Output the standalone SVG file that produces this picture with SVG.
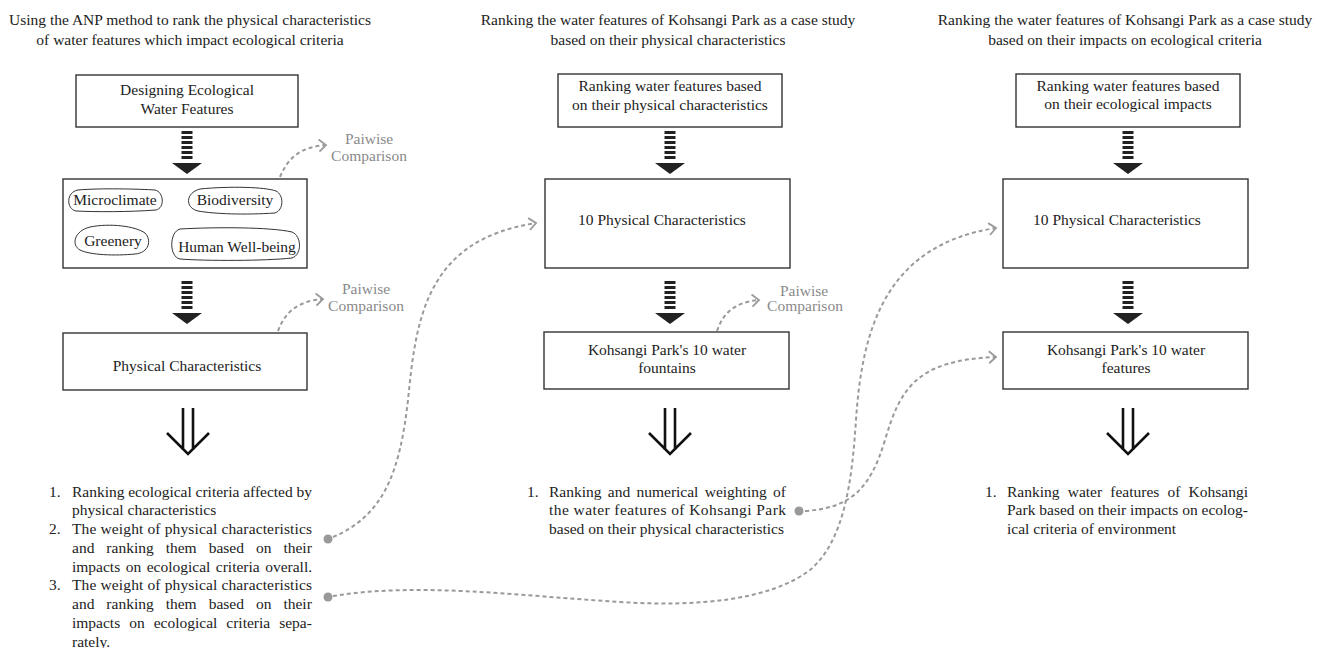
<svg xmlns="http://www.w3.org/2000/svg" width="1325" height="648" viewBox="0 0 1325 648">
<style>
text{font-family:"Liberation Serif","Times New Roman",serif;font-size:15.5px;fill:#222}
.c{text-anchor:middle}
.g{fill:#8a8a8a}
.box{fill:#fff;stroke:#333;stroke-width:1.4}
.blob{fill:none;stroke:#333;stroke-width:1}
.dash{fill:none;stroke:#9a9a9a;stroke-width:2;stroke-dasharray:4 3}
.dot{fill:#999}
.bar{fill:#222}
.hol{fill:none;stroke:#111;stroke-width:2.6}
</style>
<defs>
<marker id="ah" markerUnits="userSpaceOnUse" markerWidth="12" markerHeight="14" refX="8" refY="6" orient="auto" overflow="visible">
<path d="M1,0 L8,6 L1,12" fill="none" stroke="#9a9a9a" stroke-width="1.8"/>
</marker>
<g id="bars">
<rect x="-5.5" y="0" width="11" height="3"/>
<rect x="-5.5" y="5" width="11" height="3"/>
<rect x="-5.5" y="10" width="11" height="3"/>
<rect x="-5.5" y="15" width="11" height="3"/>
<rect x="-5.5" y="20" width="11" height="3"/>
<rect x="-5.5" y="25" width="11" height="3"/>
<path d="M-15,32 L15,32 L0,43 Z"/>
</g>
<g id="hollow">
<path d="M-5,0 V42 M5,0 V42 M-21,25 L0,46 L21,25"/>
</g>
</defs>

<!-- titles -->
<g id="titles">
<text class="c" x="190" y="25">Using the ANP method to rank the physical characteristics</text>
<text class="c" x="190" y="45">of water features which impact ecological criteria</text>
<text class="c" x="668" y="25">Ranking the water features of Kohsangi Park as a case study</text>
<text class="c" x="668" y="45">based on their physical characteristics</text>
<text class="c" x="1125" y="25">Ranking the water features of Kohsangi Park as a case study</text>
<text class="c" x="1125" y="45">based on their impacts on ecological criteria</text>
</g>

<!-- left column -->
<g id="n-designing">
<rect class="box" x="76" y="75" width="222" height="52"/>
<text class="c" x="187" y="95">Designing Ecological</text>
<text class="c" x="187" y="114">Water Features</text>
</g>
<g id="n-criteria">
<rect class="box" x="63" y="179" width="244" height="89"/>
<path class="blob" d="M78,190 C100,188 140,189 155,190 C164,192 165,208 156,210 C130,212 95,212 76,211 C66,209 66,192 78,190 Z"/>
<text class="c" x="115" y="205">Microclimate</text>
<path class="blob" d="M200,189 C230,186 265,187 276,191 C284,195 284,210 275,213 C245,215 215,214 198,211 C185,208 185,193 200,189 Z"/>
<text class="c" x="235" y="205">Biodiversity</text>
<path class="blob" d="M90,227 C110,223 135,226 145,233 C152,240 149,253 135,254 C115,256 90,255 80,250 C71,245 74,231 90,227 Z"/>
<text class="c" x="113" y="246">Greenery</text>
<path class="blob" d="M180,229 C215,227 270,227 292,232 C302,236 302,255 292,258 C265,261 205,261 180,259 C169,257 169,232 180,229 Z"/>
<text class="c" x="237" y="252">Human Well-being</text>
</g>
<g id="n-physical">
<rect class="box" x="63" y="333" width="244" height="57"/>
<text class="c" x="187" y="371">Physical Characteristics</text>
</g>
<g id="n-left-results">
<text x="49" y="496.5">1.</text>
<text x="72" y="496.5" textLength="240" lengthAdjust="spacing">Ranking ecological criteria affected by</text>
<text x="72" y="515.25">physical characteristics</text>
<text x="49" y="534">2.</text>
<text x="72" y="534" textLength="240" lengthAdjust="spacing">The weight of physical characteristics</text>
<text x="72" y="552.75" word-spacing="8.1">and ranking them based on their</text>
<text x="72" y="571.5" word-spacing="1.6">impacts on ecological criteria overall.</text>
<text x="49" y="590.25">3.</text>
<text x="72" y="590.25" textLength="240" lengthAdjust="spacing">The weight of physical characteristics</text>
<text x="72" y="609" word-spacing="8.1">and ranking them based on their</text>
<text x="72" y="627.75" word-spacing="5.1">impacts on ecological criteria sepa-</text>
<text x="72" y="646.5">rately.</text>
</g>

<!-- middle column -->
<g id="n-mid-rank">
<rect class="box" x="558" y="74" width="224" height="53"/>
<text class="c" x="670" y="91">Ranking water features based</text>
<text class="c" x="670" y="109.5">on their physical  characteristics</text>
</g>
<g id="n-mid-10pc">
<rect class="box" x="545" y="179" width="245" height="89"/>
<text x="578" y="225">10 Physical Characteristics</text>
</g>
<g id="n-mid-fountains">
<rect class="box" x="544" y="332" width="245" height="57"/>
<text class="c" x="667" y="355">Kohsangi Park's 10 water</text>
<text class="c" x="667" y="373">fountains</text>
</g>
<g id="n-mid-results">
<text x="527" y="496.5">1.</text>
<text x="549" y="496.5" word-spacing="2.4">Ranking and numerical weighting of</text>
<text x="549" y="515.25" textLength="237" lengthAdjust="spacing">the water features of Kohsangi Park</text>
<text x="549" y="534">based on their physical characteristics</text>
</g>

<!-- right column -->
<g id="n-right-rank">
<rect class="box" x="1016" y="74" width="224" height="53"/>
<text class="c" x="1128" y="91">Ranking water features based</text>
<text class="c" x="1128" y="109">on their ecological impacts</text>
</g>
<g id="n-right-10pc">
<rect class="box" x="1003" y="179" width="245" height="89"/>
<text x="1033" y="225">10 Physical Characteristics</text>
</g>
<g id="n-right-features">
<rect class="box" x="1003" y="332" width="245" height="57"/>
<text class="c" x="1126" y="355">Kohsangi Park's 10 water</text>
<text class="c" x="1126" y="373">features</text>
</g>
<g id="n-right-results">
<text x="985" y="496.5">1.</text>
<text x="1007" y="496.5" word-spacing="4.3">Ranking water features of Kohsangi</text>
<text x="1007" y="515.25" textLength="241" lengthAdjust="spacing">Park based on their impacts on ecolog-</text>
<text x="1007" y="534">ical criteria of environment</text>
</g>

<!-- pairwise labels -->
<g id="n-pairwise-1">
<text class="c g" x="369" y="143.5">Paiwise</text>
<text class="c g" x="369" y="160.5">Comparison</text>
</g>
<g id="n-pairwise-2">
<text class="c g" x="366" y="294">Paiwise</text>
<text class="c g" x="366" y="311">Comparison</text>
</g>
<g id="n-pairwise-3">
<text class="c g" x="804" y="296">Paiwise</text>
<text class="c g" x="805" y="311">Comparison</text>
</g>

<!-- connectors -->
<g id="connectors">
<g class="bar">
<use href="#bars" x="187" y="131"/>
<use href="#bars" x="187" y="281"/>
<use href="#bars" x="670" y="131"/>
<use href="#bars" x="670" y="281"/>
<use href="#bars" x="1128" y="131"/>
<use href="#bars" x="1128" y="281"/>
</g>
<g class="hol">
<use href="#hollow" x="188" y="408"/>
<use href="#hollow" x="670" y="408"/>
<use href="#hollow" x="1128" y="408"/>
</g>
<path class="dash" marker-end="url(#ah)" d="M280,177 C288,158 300,147 326,145"/>
<path class="dash" marker-end="url(#ah)" d="M278,331 C285,312 298,301 323,299"/>
<path class="dash" marker-end="url(#ah)" d="M717,331 C723,313 735,302 759,300"/>
<path class="dash" marker-end="url(#ah)" d="M333,537 C385,515 400,470 408,400 C416,320 425,240 536,223"/>
<path class="dash" marker-end="url(#ah)" d="M333,596 C420,582 520,596 620,602 C700,607 770,600 810,570 C845,540 852,480 856,420 C862,330 885,245 996,228"/>
<path class="dash" marker-end="url(#ah)" d="M805,511 C850,508 870,490 885,440 C900,390 915,360 996,357"/>
<circle class="dot" cx="328" cy="539" r="4.5"/>
<circle class="dot" cx="328" cy="597" r="4.5"/>
<circle class="dot" cx="799" cy="511" r="4.5"/>
</g>
</svg>
